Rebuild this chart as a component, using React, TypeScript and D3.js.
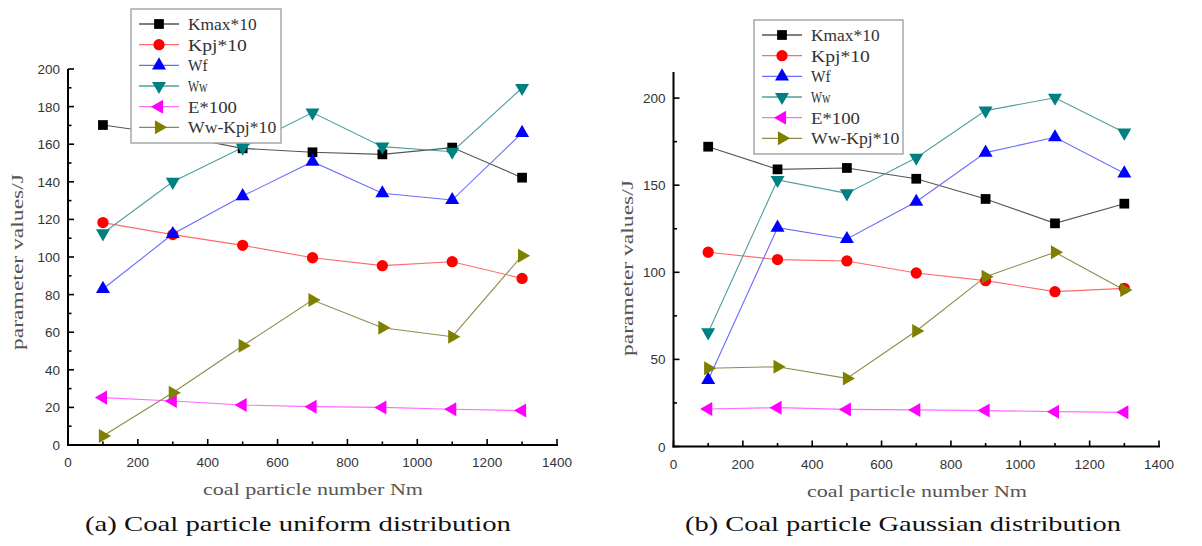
import React from "react";
import * as d3 from "d3";

// ---------- data ----------
const nm = [100, 300, 500, 700, 900, 1100, 1300];
const seriesNames = ["Kmax*10", "Kpj*10", "Wf", "Ww", "E*100", "Ww-Kpj*10"];

// (a) uniform distribution
const uniKmax = [170.2, 164.9, 157.8, 155.7, 154.6, 158.2, 142.2];
const uniKpj = [118.3, 111.9, 106.2, 99.6, 95.4, 97.5, 88.6];
const uniWf = [83.0, 112.2, 132.4, 150.7, 133.9, 130.3, 166.0];
const uniWw = [112.6, 140.0, 158.2, 176.8, 158.7, 156.0, 189.9];
const uniE = [25.2, 23.4, 21.3, 20.4, 20.0, 19.0, 18.3];
const uniWwKpj = [4.8, 27.8, 52.8, 77.1, 62.4, 57.6, 100.7];

// (b) Gaussian distribution
const gauKmax = [172.1, 159.1, 159.9, 153.7, 142.1, 128.1, 139.4];
const gauKpj = [111.5, 107.3, 106.5, 99.6, 95.2, 88.9, 90.8];
const gauWf = [38.2, 125.6, 119.1, 140.5, 168.7, 177.5, 156.8];
const gauWw = [65.5, 153.0, 145.3, 165.8, 192.8, 200.2, 180.2];
const gauE = [21.5, 22.3, 21.3, 21.0, 20.6, 20.0, 19.6];
const gauWwKpj = [44.9, 45.8, 39.1, 66.3, 97.5, 111.5, 89.8];

const xTicks = [0, 200, 400, 600, 800, 1000, 1200, 1400];
const uniYTicks = [0, 20, 40, 60, 80, 100, 120, 140, 160, 180, 200];
const gauYTicks = [0, 50, 100, 150, 200];

const captionA = "(a) Coal particle uniform distribution";
const captionB = "(b) Coal particle Gaussian distribution";
const xTitle = "coal particle number Nm";
const yTitle = "parameter values/J";

// ---------- styles ----------
const markerColors = ["#000000", "#ff0000", "#0000ff", "#008080", "#ff00ff", "#808000"];
const lineColors = ["#555555", "#ff6b6b", "#6b6bff", "#4f9f9f", "#ff6bff", "#8c8c4a"];
const markerKinds = ["square", "circle", "up", "down", "left", "right"];

const serif = "'Liberation Serif', 'DejaVu Serif', serif";
const sans = "'Liberation Sans', Arial, sans-serif";

function Marker({ kind, x, y, color }: { kind: string; x: number; y: number; color: string }) {
  let path = "";
  let rot = 0;
  if (kind === "square") path = d3.symbol(d3.symbolSquare, 95)() as string;
  else if (kind === "circle") path = d3.symbol(d3.symbolCircle, 100)() as string;
  else {
    path = d3.symbol(d3.symbolTriangle, 85)() as string;
    rot = kind === "up" ? 0 : kind === "down" ? 180 : kind === "left" ? -90 : 90;
  }
  return <path d={path} transform={`translate(${x},${y}) rotate(${rot})`} fill={color} stroke="none" />;
}

type PanelProps = {
  series: number[][];
  x0: number;
  x1: number;
  yBottom: number;
  yTopPx: number;
  yMax: number;
  yTicks: number[];
  yMinorStep: number;
  legendX: number;
  legendY: number;
  legendW: number;
  legendH: number;
  yTitleX: number;
  yTitleY: number;
  xTitleX: number;
  caption: string;
  captionX: number;
  captionW: number;
};

function Panel(p: PanelProps) {
  const x = d3.scaleLinear().domain([0, 1400]).range([p.x0, p.x1]);
  const y = d3.scaleLinear().domain([0, p.yMax]).range([p.yBottom, p.yTopPx]);
  const yAxisTop = p.yTopPx;
  const xMinor = d3.range(100, 1400, 200);
  const yMinor = d3.range(p.yMinorStep, p.yMax + 0.001, p.yMinorStep * 2).filter((v) => v <= p.yMax);
  const line = d3
    .line<number>()
    .x((_, i) => x(nm[i]))
    .y((d) => y(d));
  const rowH = (p.legendH - 10) / 6;

  return (
    <g>
      {/* lines */}
      {p.series.map((s, si) => (
        <path key={"l" + si} d={line(s) as string} fill="none" stroke={lineColors[si]} strokeWidth={1.1} />
      ))}
      {/* markers */}
      {p.series.map((s, si) =>
        s.map((v, i) => (
          <Marker key={"m" + si + "-" + i} kind={markerKinds[si]} x={x(nm[i])} y={y(v)} color={markerColors[si]} />
        ))
      )}
      {/* axes */}
      <line x1={p.x0} x2={p.x0} y1={p.yBottom + 1} y2={yAxisTop} stroke="#000" strokeWidth={2} />
      <line x1={p.x0 - 1} x2={p.x1 + 1} y1={p.yBottom} y2={p.yBottom} stroke="#000" strokeWidth={2} />
      {xTicks.map((t) => (
        <g key={"xt" + t}>
          <line x1={x(t)} x2={x(t)} y1={p.yBottom} y2={p.yBottom - 6} stroke="#000" strokeWidth={1.6} />
          <text x={x(t)} y={p.yBottom + 22} textAnchor="middle" fontFamily={sans} fontSize={13.5} fill="#333">
            {t}
          </text>
        </g>
      ))}
      {xMinor.map((t) => (
        <line key={"xm" + t} x1={x(t)} x2={x(t)} y1={p.yBottom} y2={p.yBottom - 3.5} stroke="#000" strokeWidth={1.6} />
      ))}
      {p.yTicks.map((t) => (
        <g key={"yt" + t}>
          <line x1={p.x0} x2={p.x0 + 6} y1={y(t)} y2={y(t)} stroke="#000" strokeWidth={1.6} />
          <text x={p.x0 - 8} y={y(t) + 5} textAnchor="end" fontFamily={sans} fontSize={13.5} fill="#333">
            {t}
          </text>
        </g>
      ))}
      {yMinor.map((t) => (
        <line key={"ym" + t} x1={p.x0} x2={p.x0 + 3.5} y1={y(t)} y2={y(t)} stroke="#000" strokeWidth={1.6} />
      ))}
      {/* axis titles */}
      <text
        x={p.xTitleX}
        y={p.yBottom + 50}
        textAnchor="middle"
        fontFamily={serif}
        fontSize={16.5}
        fill="#555"
        textLength={220}
        lengthAdjust="spacingAndGlyphs"
      >
        {xTitle}
      </text>
      <text
        transform={`translate(${p.yTitleX},${p.yTitleY}) rotate(-90)`}
        textAnchor="middle"
        fontFamily={serif}
        fontSize={16.5}
        fill="#555"
        textLength={176}
        lengthAdjust="spacingAndGlyphs"
      >
        {yTitle}
      </text>
      {/* legend */}
      <rect
        x={p.legendX}
        y={p.legendY}
        width={p.legendW}
        height={p.legendH}
        fill="#fff"
        stroke="#a8a8a8"
        strokeWidth={1.5}
      />
      {seriesNames.map((name, si) => {
        const cy = p.legendY + 15 + si * rowH;
        return (
          <g key={"lg" + si}>
            <line x1={p.legendX + 8} x2={p.legendX + 48} y1={cy} y2={cy} stroke={lineColors[si]} strokeWidth={1.3} />
            <Marker kind={markerKinds[si]} x={p.legendX + 28} y={cy} color={markerColors[si]} />
            <text
              x={p.legendX + 57}
              y={cy + 6}
              fontFamily={serif}
              fontSize={17}
              fill="#333"
              textLength={name.length * 9.8}
              lengthAdjust="spacingAndGlyphs"
            >
              {name}
            </text>
          </g>
        );
      })}
      {/* caption */}
      <text
        x={p.captionX}
        y={531}
        textAnchor="middle"
        fontFamily={serif}
        fontSize={22}
        fill="#111"
        textLength={p.captionW}
        lengthAdjust="spacingAndGlyphs"
      >
        {p.caption}
      </text>
    </g>
  );
}

export default function App() {
  const uni = [uniKmax, uniKpj, uniWf, uniWw, uniE, uniWwKpj];
  const gau = [gauKmax, gauKpj, gauWf, gauWw, gauE, gauWwKpj];
  return (
    <svg
      width={1202}
      height={546}
      style={{ position: "absolute", left: 0, top: 0, background: "#fff" }}
      xmlns="http://www.w3.org/2000/svg"
    >
      <rect x={0} y={0} width={1202} height={546} fill="#fff" />
      <Panel
        series={uni}
        x0={68}
        x1={557}
        yBottom={445}
        yTopPx={69}
        yMax={200}
        yTicks={uniYTicks}
        yMinorStep={10}
        legendX={131}
        legendY={9}
        legendW={150}
        legendH={134}
        yTitleX={23}
        yTitleY={262}
        xTitleX={313}
        caption={captionA}
        captionX={298}
        captionW={426}
      />
      <Panel
        series={gau}
        x0={673.5}
        x1={1159}
        yBottom={446.5}
        yTopPx={446.5 - 215 * 1.742}
        yMax={215}
        yTicks={gauYTicks}
        yMinorStep={25}
        legendX={754}
        legendY={20}
        legendW={149}
        legendH={134}
        yTitleX={633}
        yTitleY={268}
        xTitleX={917}
        caption={captionB}
        captionX={903}
        captionW={436}
      />
    </svg>
  );
}
